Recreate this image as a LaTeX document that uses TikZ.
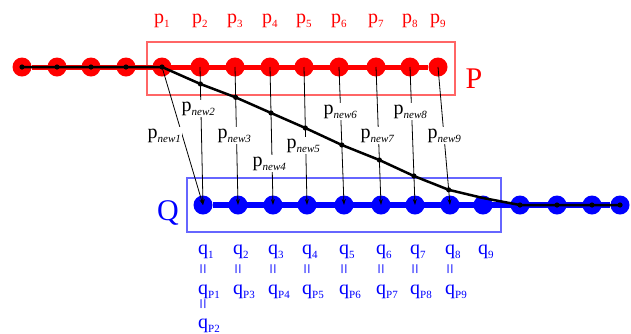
\documentclass[tikz,border=0pt]{standalone}
\usepackage{fontspec}
\setmainfont{Liberation Serif}
\usetikzlibrary{positioning, arrows.meta, calc}

\newcommand\lsub[1]{\raisebox{-4pt}{\fontsize{11}{11}\selectfont #1}}

\begin{document}
\begin{tikzpicture}[x=1pt, y=-1pt,
    pdot/.style={circle, fill=red, minimum size=19pt, inner sep=0pt},
    qdot/.style={circle, fill=blue, minimum size=19pt, inner sep=0pt},
    lbl/.style={font=\fontsize{20}{20}\selectfont, inner sep=0pt, anchor=base west},
    plbl/.style={lbl, text=red},
    qlbl/.style={lbl, text=blue},
    qeq/.style={text=blue, font=\fontsize{19}{19}\selectfont, rotate=90, inner sep=0pt},
    nlbl/.style={lbl, fill=white, inner sep=1.5pt},
    map/.style={line width=0.8pt, -{Stealth[length=6pt, width=4pt]}}
]
    \useasboundingbox (0,0) rectangle (631,333);
    % Boxes round P and Q
    \draw[red!60, line width=1.6pt] (147,42) rectangle (455,95);
    \draw[blue!60, line width=1.6pt] (187,178) rectangle (501,232);
    \node[text=red, font=\fontsize{30}{30}\selectfont] (Pname) at (474,79) {P};
    \node[text=blue, font=\fontsize{30}{30}\selectfont] (Qname) at (168,213) {Q};
    % P points (red)
    \foreach \x [count=\i] in {22,57,91,126}
        \node[pdot] (pa\i) at (\x,67) {};
    \foreach \x [count=\i] in {162,200,235,270,304,339,376,410,438}
        \node[pdot] (p\i) at (\x,67) {};
    \draw[red, line width=5pt] (pa1) -- (p9);
    % Q points (blue)
    \foreach \x [count=\i] in {203,238,273,307,344,381,415,450,483}
        \node[qdot] (q\i) at (\x,205) {};
    \foreach \x [count=\i] in {520,557,592,620}
        \node[qdot] (qb\i) at (\x,205) {};
    \draw[blue, line width=5.5pt] (q1) -- (qb4);
    % Mapping p -> q
    \foreach \i/\j in {1/1, 2/1, 3/2, 4/3, 5/4, 6/5, 7/6, 8/7, 9/8}
        \draw[map] (p\i.center) -- (q\j.center);
    % New points on the mapping lines
    \foreach \i/\j/\t in {2/1/0.123, 3/2/0.22, 4/3/0.333, 5/4/0.442, 6/5/0.565, 7/6/0.674, 8/7/0.79, 9/8/0.89}
        \coordinate (n\i) at ($(p\i.center)!\t!(q\j.center)$);
    \coordinate (bend) at ($(q9.center)+(0,-7)$);
    % Black path
    \draw[line width=2.5pt, line join=round] (pa1.center) -- (pa2.center) -- (pa3.center) -- (pa4.center)
        -- (p1.center) -- (n2) -- (n3) -- (n4) -- (n5) -- (n6) -- (n7) -- (n8) -- (n9)
        -- (bend) -- (qb1.center) -- (qb2.center) -- (qb3.center) -- (qb4.center);
    \foreach \n in {pa1, pa2, pa3, pa4, p1, n2, n3, n4, n5, n6, n7, n8, n9, qb1, qb2, qb3, qb4}
        \fill (\n.center) circle (2.6pt);
    % Labels of the new points
    \foreach \i/\x/\y in {1/146/138, 2/180/111, 3/216/138, 4/251/166, 5/285/148, 6/322/114, 7/359/138, 8/392/114, 9/426/138}
        \node[nlbl] (pn\i) at (\x,\y) {p\lsub{\itshape new\i}};
    % P labels
    \foreach \i in {1,...,9}
        \node[plbl] (pl\i) at ($(p\i.center)+(-8,-44)$) {p\lsub{\i}};
    % Q labels
    \foreach \i in {1,...,9}
        \node[qlbl] (ql\i) at ($(q\i.center)+(-5,49)$) {q\lsub{\i}};
    \foreach \i/\j in {1/1, 2/3, 3/4, 4/5, 5/6, 6/7, 7/8, 8/9} {
        \node[qeq] (qe\i) at ($(q\i.center)+(2,64)$) {=};
        \node[qlbl] (qp\i) at ($(q\i.center)+(-5,89)$) {q\lsub{P\j}};
    }
    \node[qeq] (qe0) at ($(q1.center)+(2,99)$) {=};
    \node[qlbl] (qp0) at ($(q1.center)+(-5,123)$) {q\lsub{P2}};
\end{tikzpicture}
\end{document}
